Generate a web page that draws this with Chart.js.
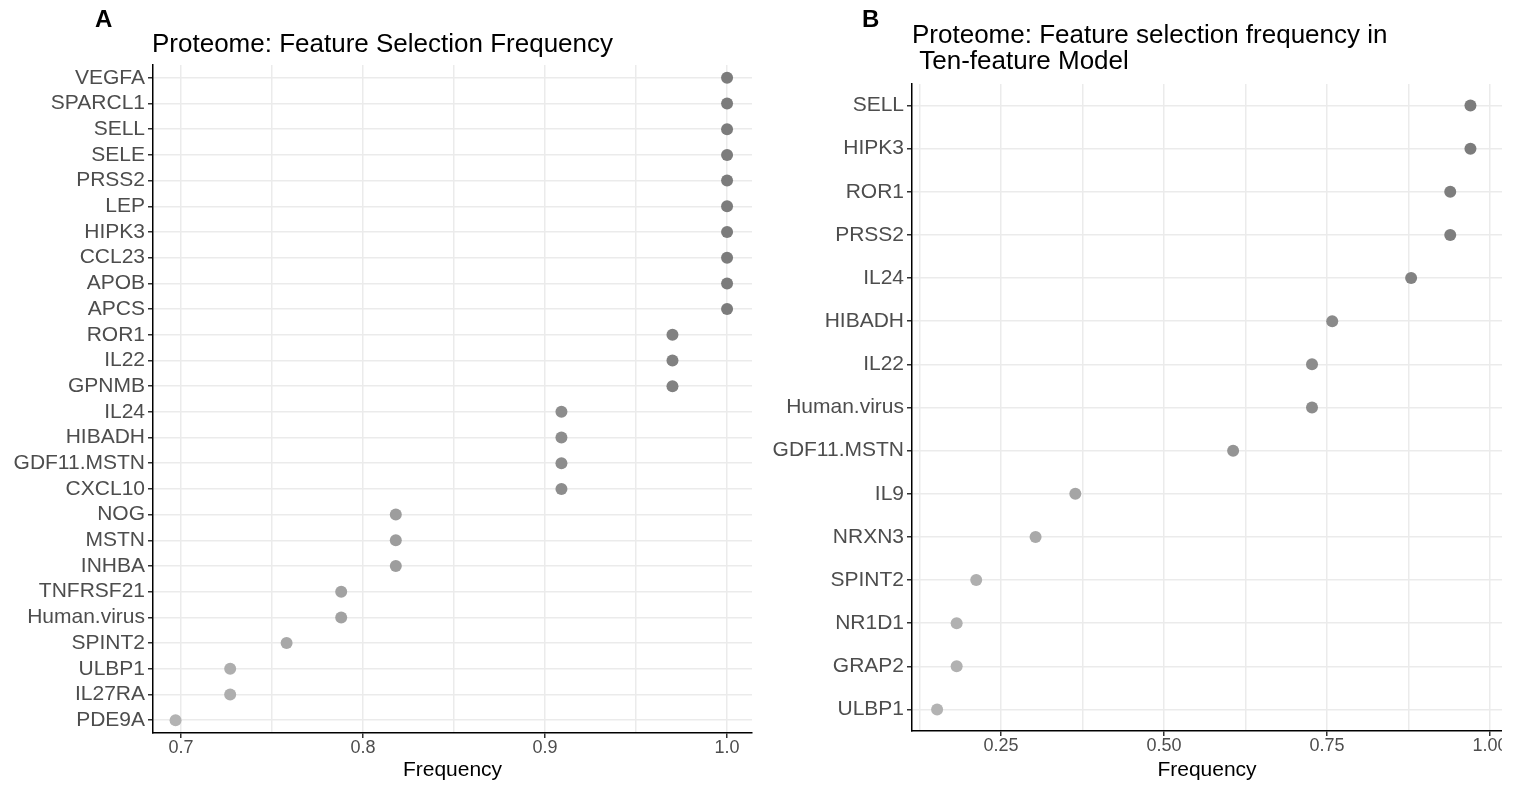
<!DOCTYPE html>
<html>
<head>
<meta charset="utf-8">
<script src="https://cdn.jsdelivr.net/npm/chart.js@4.4.1/dist/chart.umd.min.js"></script>
<style>
  body { margin: 0; background: #fff; width: 1524px; height: 785px; overflow: hidden; position: relative; }
  .panel { position: absolute; top: 0; height: 785px; overflow: hidden; }
  #wrap_a { left: 0; width: 760px; }
  #wrap_b { left: 760px; width: 742px; }
</style>
</head>
<body>
<div class="panel" id="wrap_a"><canvas id="panel_a" width="760" height="785"></canvas></div>
<div class="panel" id="wrap_b"><canvas id="panel_b" width="764" height="785"></canvas></div>
<script>
// Panel A: all proteome features
const featuresA = ['VEGFA', 'SPARCL1', 'SELL', 'SELE', 'PRSS2', 'LEP', 'HIPK3', 'CCL23', 'APOB', 'APCS',
  'ROR1', 'IL22', 'GPNMB', 'IL24', 'HIBADH', 'GDF11.MSTN', 'CXCL10', 'NOG', 'MSTN', 'INHBA',
  'TNFRSF21', 'Human.virus', 'SPINT2', 'ULBP1', 'IL27RA', 'PDE9A'];
const frequencyA = [1.000, 1.000, 1.000, 1.000, 1.000, 1.000, 1.000, 1.000, 1.000, 1.000,
  0.970, 0.970, 0.970, 0.909, 0.909, 0.909, 0.909, 0.818, 0.818, 0.818,
  0.788, 0.788, 0.758, 0.727, 0.727, 0.697];

// Panel B: ten-feature model
const featuresB = ['SELL', 'HIPK3', 'ROR1', 'PRSS2', 'IL24', 'HIBADH', 'IL22', 'Human.virus',
  'GDF11.MSTN', 'IL9', 'NRXN3', 'SPINT2', 'NR1D1', 'GRAP2', 'ULBP1'];
const frequencyB = [0.970, 0.970, 0.939, 0.939, 0.879, 0.758, 0.727, 0.727,
  0.606, 0.364, 0.303, 0.212, 0.182, 0.182, 0.152];

const ticksA = ['0.7', '0.8', '0.9', '1.0'];
const ticksB = ['0.25', '0.50', '0.75', '1.00'];

const FONT = "'Liberation Sans', Arial, sans-serif";

// grey gradient: light for low frequency, dark for high
function greys(values) {
  const lo = Math.min(...values), hi = Math.max(...values);
  return values.map(v => {
    const t = hi === lo ? 1 : (v - lo) / (hi - lo);
    const g = Math.round(179 + (124 - 179) * t);
    return 'rgb(' + g + ',' + g + ',' + g + ')';
  });
}

function headings(tag, lines, tagX) {
  return {
    id: 'headings',
    afterDraw(chart) {
      const c = chart.ctx;
      const left = chart.chartArea.left;
      c.save();
      c.fillStyle = '#000';
      c.textBaseline = 'alphabetic';
      c.font = 'bold 24px ' + FONT;
      c.fillText(tag, tagX, 27);
      c.font = '26px ' + FONT;
      lines.forEach(l => c.fillText(l.text, left + l.dx, l.y));
      c.restore();
    }
  };
}

function dotChart(id, labels, values, tickLabels, cfg) {
  const isMajor = v => tickLabels.some(t => Math.abs(parseFloat(t) - v) < 1e-6);
  return new Chart(document.getElementById(id), {
    type: 'line',
    data: {
      labels: labels,
      datasets: [{
        data: values,
        showLine: false,
        pointRadius: 6,
        pointBorderWidth: 0,
        pointBackgroundColor: greys(values)
      }]
    },
    options: {
      indexAxis: 'y',
      responsive: false,
      animation: false,
      events: [],
      layout: { autoPadding: false, padding: cfg.padding },
      plugins: { legend: { display: false }, tooltip: { enabled: false } },
      scales: {
        x: {
          type: 'linear',
          min: cfg.min,
          max: cfg.max,
          afterFit: s => { s.height = cfg.xHeight; },
          border: { color: '#000', width: 1.5 },
          grid: {
            color: '#ebebeb',
            lineWidth: 1.5,
            tickLength: 5,
            tickColor: c => (c.tick && isMajor(c.tick.value)) ? '#333' : 'rgba(0,0,0,0)'
          },
          ticks: {
            stepSize: cfg.step,
            includeBounds: false,
            autoSkip: false,
            maxRotation: 0,
            padding: -1,
            color: '#4d4d4d',
            font: { family: FONT, size: 18 },
            callback: v => {
              const hit = tickLabels.find(t => Math.abs(parseFloat(t) - v) < 1e-6);
              return hit === undefined ? '' : hit;
            }
          },
          title: {
            display: true,
            text: 'Frequency',
            color: '#000',
            font: { family: FONT, size: 21 },
            padding: { top: 0, bottom: 2 }
          }
        },
        y: {
          type: 'category',
          offset: true,
          afterFit: s => { s.width = cfg.yWidth; },
          border: { color: '#000', width: 1.5 },
          grid: { offset: false, color: '#ebebeb', lineWidth: 1.5, tickLength: 5, tickColor: '#333' },
          ticks: {
            autoSkip: false,
            padding: 3,
            color: '#4d4d4d',
            font: { family: FONT, size: 21 }
          }
        }
      }
    },
    plugins: [headings(cfg.tag, cfg.title, cfg.tagX)]
  });
}

dotChart('panel_a', featuresA, frequencyA, ticksA, {
  min: 0.6846, max: 1.0137, step: 0.05,
  padding: { left: 0, top: 65, right: 8, bottom: 0 },
  xHeight: 52, yWidth: 153,
  tag: 'A', tagX: 95,
  title: [{ text: 'Proteome: Feature Selection Frequency', dx: -1, y: 52 }]
});

// wider canvas than its wrapper, so the last tick label is cut at the panel edge
dotChart('panel_b', featuresB, frequencyB, ticksB, {
  min: 0.1135, max: 1.0184, step: 0.125,
  padding: { left: 0, top: 84, right: 22, bottom: 0 },
  xHeight: 54, yWidth: 152,
  tag: 'B', tagX: 102,
  title: [
    { text: 'Proteome: Feature selection frequency in', dx: 0, y: 43 },
    { text: ' Ten-feature Model', dx: 0, y: 69 }
  ]
});
</script>
</body>
</html>
